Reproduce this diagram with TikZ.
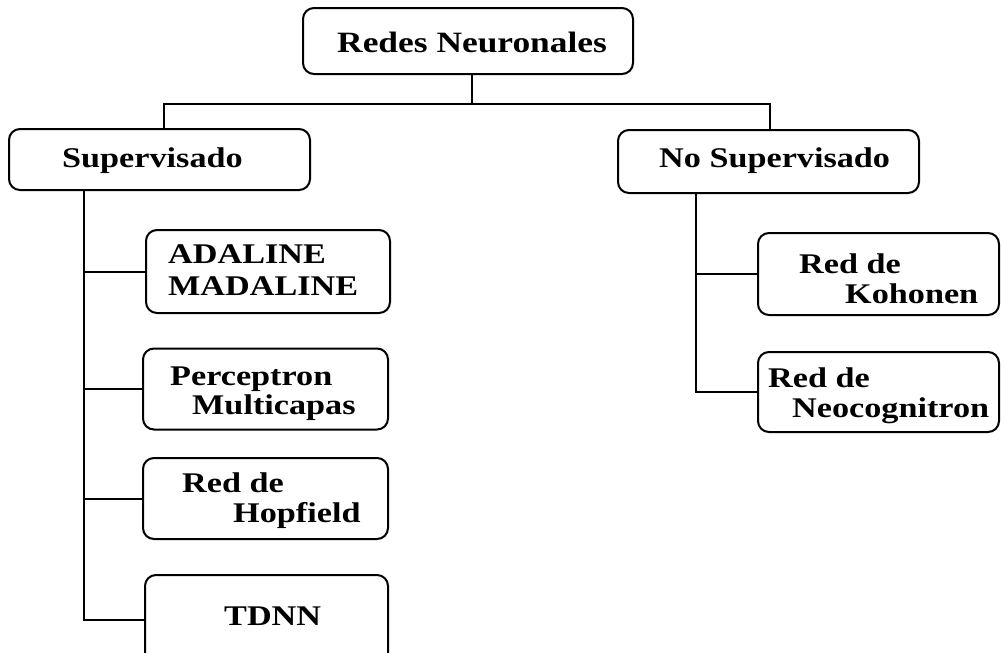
\documentclass[tikz,border=0pt]{standalone}
\usepackage{fontspec}
\newfontfamily\diafont{Liberation Serif}[FakeStretch=1.2]
\begin{document}
\begin{tikzpicture}[x=1pt,y=-1pt,
  box/.style={draw, line width=2pt, rounded corners=11pt, inner sep=0pt, outer sep=0pt},
  link/.style={line width=2pt},
  lbl/.style={anchor=base west, inner sep=0pt, font=\diafont\bfseries\fontsize{28.5pt}{30pt}\selectfont},
  toplbl/.style={lbl, font=\diafont\bfseries\fontsize{29.5pt}{31pt}\selectfont}]
\useasboundingbox (0,0) rectangle (1001,653);
\clip (0,0) rectangle (1001,653);

% boxes (centre, size)
\node[box, minimum width=330pt, minimum height=66pt] (top)   at (468,41) {};
\node[box, minimum width=301pt, minimum height=61pt] (sup)   at (159.5,159.5) {};
\node[box, minimum width=301pt, minimum height=63pt] (nosup) at (768.5,161.5) {};
\node[box, minimum width=244pt, minimum height=83pt] (ada)   at (268,271.5) {};
\node[box, minimum width=245pt, minimum height=81pt] (per)   at (265.5,389) {};
\node[box, minimum width=245pt, minimum height=81pt] (hop)   at (265.5,498.5) {};
\node[box, minimum width=243pt, minimum height=90pt] (tdnn)  at (266.5,620) {};
\node[box, minimum width=241pt, minimum height=82pt] (koh)   at (878.5,274) {};
\node[box, minimum width=241pt, minimum height=80pt] (neo)   at (878.5,392) {};

% labels
\node[toplbl] (topt)  at (337,52)  {Redes Neuronales};
\node[lbl] (supt)     at (62,167)  {Supervisado};
\node[lbl] (nosupt)   at (659,167) {No Supervisado};
\node[lbl] (ada1)     at (168,263) {ADALINE};
\node[lbl] (ada2)     at (168,295) {MADALINE};
\node[lbl] (per1)     at (170,385) {Perceptron};
\node[lbl] (per2)     at (192,414) {Multicapas};
\node[lbl] (hop1)     at (182,492) {Red de};
\node[lbl] (hop2)     at (233,522) {Hopfield};
\node[lbl] (tdnnt)    at (224,625) {TDNN};
\node[lbl] (koh1)     at (799,273) {Red de};
\node[lbl] (koh2)     at (845,303) {Kohonen};
\node[lbl] (neo1)     at (768,387) {Red de};
\node[lbl] (neo2)     at (792,417) {Neocognitron};

% junction points of the tree
\coordinate (jt) at (472,104);
\coordinate (jl) at (164,104);
\coordinate (jr) at (770,104);
\coordinate (ls) at (84,0);
\coordinate (rs) at (696,0);

% top level connectors
\draw[link] (jt |- top.south) -- (jt);
\draw[link] (sup.north -| jl) -- (jl) -- (jr) -- (jr |- nosup.north);

% supervised branch
\draw[link] (ls |- sup.south) -- (ls |- tdnn.west) -- (tdnn.west);
\draw[link] (ls |- ada.west) -- (ada.west);
\draw[link] (ls |- per.west) -- (per.west);
\draw[link] (ls |- hop.west) -- (hop.west);

% unsupervised branch
\draw[link] (rs |- nosup.south) -- (rs |- neo.west) -- (neo.west);
\draw[link] (rs |- koh.west) -- (koh.west);
\end{tikzpicture}
\end{document}
